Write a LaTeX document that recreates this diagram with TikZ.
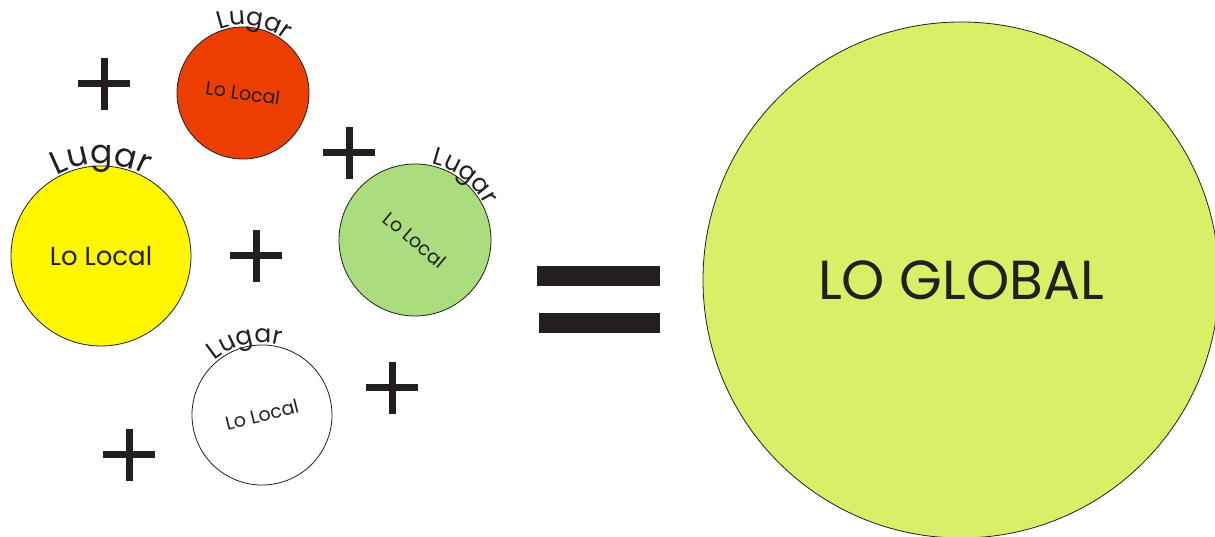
\documentclass[tikz,border=0pt]{standalone}
\usepackage{fontspec}
\setmainfont{Poppins}
\usetikzlibrary{decorations.text}

\definecolor{ink}{HTML}{231F20}
\definecolor{localred}{HTML}{EB3E00}
\definecolor{localyellow}{HTML}{FFF700}
\definecolor{localgreen}{HTML}{ABDC7E}
\definecolor{globalgreen}{HTML}{DAEE68}

\newcommand{\lugarbig}{\fontsize{33}{33}\selectfont}
\newcommand{\lugarsmall}{\fontsize{25}{25}\selectfont}

\begin{document}
\begin{tikzpicture}[
  x=1pt, y=1pt,
  spot/.style={circle, draw=ink, line width=0.8pt, inner sep=0pt, text=ink, font=\fontsize{19}{19}\selectfont},
  plusbar/.style={draw=ink, line width=7pt},
  lugar/.style={decorate, decoration={text along path, text align=center, text color=ink, text={|#1|Lugar}}}
]
\useasboundingbox (0,0) rectangle (1215,537);

% the local places
\node[spot, fill=localred, minimum size=132, rotate=-8] (red) at (243,444) {Lo Local};
\node[spot, fill=localyellow, minimum size=180, font=\fontsize{26}{26}\selectfont] (yel) at (101,281) {Lo Local};
\node[spot, fill=localgreen, minimum size=152, rotate=-40] (grn) at (415,297) {Lo Local};
\node[spot, fill=white, minimum size=140, rotate=14] (wht) at (262,122) {Lo Local};

% Lugar along the rims
\path[lugar=\lugarbig] (yel.center) ++(140:92) arc[start angle=140, end angle=40, radius=92];
\path[lugar=\lugarsmall] (red.center) ++(131:68) arc[start angle=131, end angle=31, radius=68];
\path[lugar=\lugarsmall] (grn.center) ++(102:78) arc[start angle=102, end angle=2, radius=78];
\path[lugar=\lugarsmall] (wht.center) ++(153:72) arc[start angle=153, end angle=53, radius=72];

% plus signs
\foreach \px/\py in {104/453, 349/384, 256/281, 392/149, 129/82}
  \draw[plusbar] (\px,\py) ++(-26,0) -- ++(52,0) ++(-26,-26) -- ++(0,52);

% equals sign
\fill[ink] (537,251) rectangle (660,271);
\fill[ink] (539,204) rectangle (660,224);

% the global
\node[spot, fill=globalgreen, minimum size=516, font=\fontsize{55}{55}\selectfont] (glob) at (961,257) {LO GLOBAL};
\end{tikzpicture}
\end{document}
